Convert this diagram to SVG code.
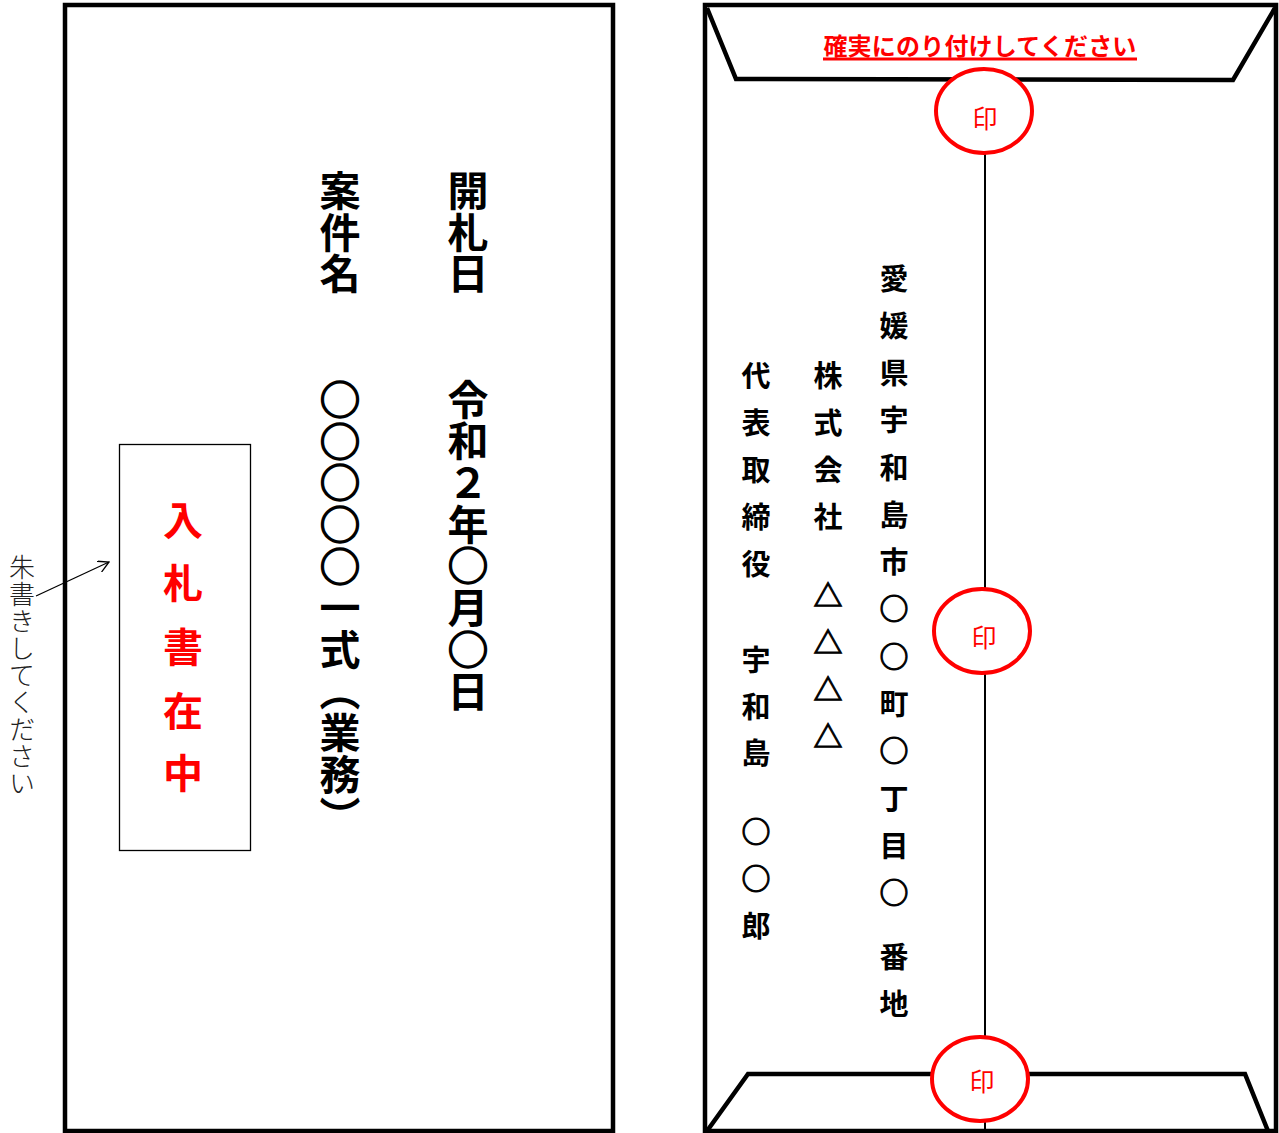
<svg xmlns="http://www.w3.org/2000/svg" width="1279" height="1133" viewBox="0 0 1279 1133">
<defs>
<style>
.frame{fill:none;stroke:#000;stroke-width:4.5;stroke-linejoin:miter}
.thin{fill:none;stroke:#000;stroke-width:1.3}
.vt{font-family:"Noto Sans CJK JP","Noto Sans",sans-serif;writing-mode:vertical-rl;text-orientation:upright}
.big{font-size:41px;font-weight:700;letter-spacing:0.7px;fill:#000}
.ch{font-family:"Noto Sans CJK JP","Noto Sans",sans-serif;text-anchor:middle;dominant-baseline:central}
.addr{font-size:29px;font-weight:700;fill:#000}
.sym{stroke:#000;stroke-width:1}
.symb{stroke:#000;stroke-width:1.4}
.red{font-size:40px;font-weight:700;fill:#ff0000}
.seal{fill:#fff;stroke:#ff0000;stroke-width:4}
.sealtxt{font-size:25px;font-weight:400;fill:#ff0000}
.note{font-size:26px;font-weight:300;fill:#222;letter-spacing:1px}
</style>
<marker id="open" viewBox="0 0 12 12" refX="11" refY="6" markerWidth="12" markerHeight="12" markerUnits="userSpaceOnUse" orient="auto">
<path d="M0,0 L11,6 L0,12" fill="none" stroke="#000" stroke-width="1.3"/>
</marker>
</defs>
<rect width="1279" height="1133" fill="#fff"/>

<!-- Left envelope -->
<g id="front-envelope">
<rect class="frame" x="65" y="5" width="548" height="1126"/>
<text class="vt big" x="468" y="170">開札日　　令和２年<tspan class="symb">○</tspan>月<tspan class="symb">○</tspan>日</text>
<text class="vt big" x="340" y="170">案件名　　<tspan class="symb">○○○○○</tspan>一式（業務）</text>
</g>

<g id="stamp-box">
<rect class="thin" x="119.5" y="444.5" width="131" height="406"/>
<text class="ch red" x="183" y="518">入</text>
<text class="ch red" x="183" y="581">札</text>
<text class="ch red" x="183" y="645">書</text>
<text class="ch red" x="183" y="709">在</text>
<text class="ch red" x="183" y="771">中</text>
</g>

<g id="note">
<text class="vt note" x="22" y="554">朱書きしてください</text>
</g>

<g id="connectors">
<line x1="36" y1="596" x2="109" y2="562" stroke="#000" stroke-width="1.3" marker-end="url(#open)"/>
<line x1="985" y1="150" x2="985" y2="1131" stroke="#000" stroke-width="2"/>
</g>

<!-- Right envelope -->
<g id="back-envelope">
<rect class="frame" x="705" y="5" width="571" height="1126"/>
<polyline class="frame" points="707,8 736,79 1233,80 1275,8"/>
<polyline class="frame" points="707,1131 748,1074 1245,1074 1268,1131"/>
<text x="980" y="55" text-anchor="middle" font-family="'Noto Sans CJK JP','Noto Sans',sans-serif" font-size="24" font-weight="700" letter-spacing="0.2" fill="#ff0000">確実にのり付けしてください</text>
<line x1="823" y1="59" x2="1137" y2="59" stroke="#ff0000" stroke-width="3"/>
</g>

<g id="address">
<text class="ch addr" x="894" y="277">愛</text>
<text class="ch addr" x="894" y="324">媛</text>
<text class="ch addr" x="894" y="371">県</text>
<text class="ch addr" x="894" y="418">宇</text>
<text class="ch addr" x="894" y="466">和</text>
<text class="ch addr" x="894" y="513">島</text>
<text class="ch addr" x="894" y="560">市</text>
<text class="ch addr sym" x="894" y="607">○</text>
<text class="ch addr sym" x="894" y="655">○</text>
<text class="ch addr" x="894" y="702">町</text>
<text class="ch addr sym" x="894" y="749">○</text>
<text class="ch addr" x="894" y="797">丁</text>
<text class="ch addr" x="894" y="844">目</text>
<text class="ch addr sym" x="894" y="891">○</text>
<text class="ch addr" x="894" y="955">番</text>
<text class="ch addr" x="894" y="1002">地</text>
</g>

<g id="company">
<text class="ch addr" x="828" y="374">株</text>
<text class="ch addr" x="828" y="421">式</text>
<text class="ch addr" x="828" y="468">会</text>
<text class="ch addr" x="828" y="515">社</text>
<text class="ch addr sym" x="828" y="594">△</text>
<text class="ch addr sym" x="828" y="641">△</text>
<text class="ch addr sym" x="828" y="688">△</text>
<text class="ch addr sym" x="828" y="735">△</text>
</g>

<g id="representative">
<text class="ch addr" x="756" y="374">代</text>
<text class="ch addr" x="756" y="421">表</text>
<text class="ch addr" x="756" y="468">取</text>
<text class="ch addr" x="756" y="515">締</text>
<text class="ch addr" x="756" y="562">役</text>
<text class="ch addr" x="756" y="658">宇</text>
<text class="ch addr" x="756" y="705">和</text>
<text class="ch addr" x="756" y="751">島</text>
<text class="ch addr sym" x="756" y="830">○</text>
<text class="ch addr sym" x="756" y="877">○</text>
<text class="ch addr" x="756" y="924">郎</text>
</g>

<g id="seal-top">
<ellipse class="seal" cx="984" cy="111" rx="48" ry="42"/>
<text class="ch sealtxt" x="985" y="117">印</text>
</g>
<g id="seal-middle">
<ellipse class="seal" cx="982" cy="631" rx="48" ry="42"/>
<text class="ch sealtxt" x="984" y="636">印</text>
</g>
<g id="seal-bottom">
<ellipse class="seal" cx="980" cy="1079" rx="48" ry="42"/>
<text class="ch sealtxt" x="982" y="1080">印</text>
</g>
</svg>
